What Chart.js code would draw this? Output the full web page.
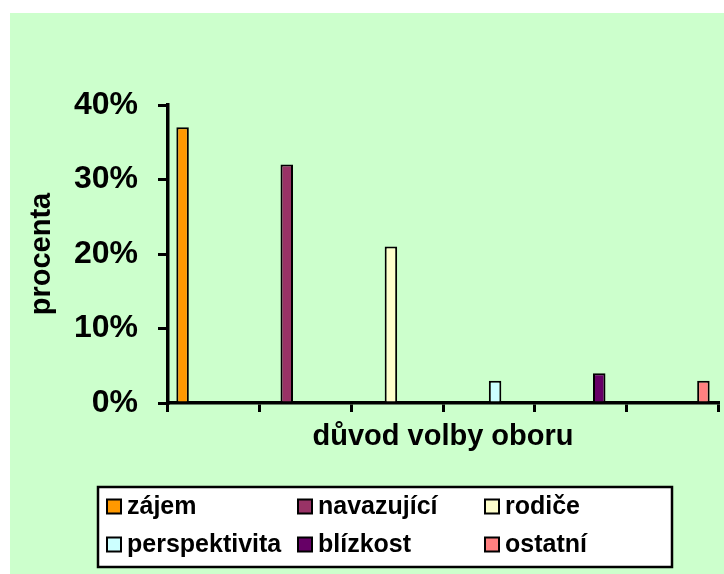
<!DOCTYPE html>
<html>
<head>
<meta charset="utf-8">
<script src="https://cdn.jsdelivr.net/npm/chart.js@4"></script>
<style>
  html, body { margin: 0; padding: 0; background: #ffffff; }
  #wrap { width: 724px; height: 574px; }
</style>
</head>
<body>
<div id="wrap"><canvas id="myChart" width="724" height="574"></canvas></div>
<script>
// categories on the x axis have no printed labels
const categories = ["", "", "", "", "", ""];
const seriesNames = ["zájem", "navazující", "rodiče", "perspektivita", "blízkost", "ostatní"];
const seriesValues = [37, 32, 21, 3, 4, 3];
const yTickValues = [0, 10, 20, 30, 40];

const colors = ["#ff9900", "#993366", "#ffffcc", "#ccffff", "#660066", "#ff8080"];
const fontFamily = "'Liberation Sans', Arial, sans-serif";

// each series only has a value in its own category
var datasets = seriesNames.map(function(name, i) {
	var data = categories.map(function(c, j) { return j === i ? seriesValues[i] : null; });
	return {
		label: name,
		data: data,
		backgroundColor: colors[i],
		borderColor: "#000000",
		borderWidth: 2,
		categoryPercentage: 0.818,
		barPercentage: 1.0
	};
});

const backgroundPlugin = {
	id: "bg",
	beforeDraw: function(chart) {
		var ctx = chart.ctx;
		ctx.save();
		ctx.fillStyle = "#ffffff";
		ctx.fillRect(0, 0, chart.width, chart.height);
		ctx.fillStyle = "#ccffcc";
		ctx.fillRect(10, 13, chart.width - 10, chart.height - 13);
		ctx.restore();
	}
};

const legendPlugin = {
	id: "boxLegend",
	afterDraw: function(chart) {
		var ctx = chart.ctx;
		var colX = [107, 298, 485];
		var rowY = [506, 544];
		ctx.save();
		ctx.fillStyle = "#ffffff";
		ctx.fillRect(98, 487, 574, 80);
		ctx.lineWidth = 2.5;
		ctx.strokeStyle = "#000000";
		ctx.strokeRect(98, 487, 574, 80);
		ctx.font = "bold 25px " + fontFamily;
		ctx.textBaseline = "middle";
		chart.data.datasets.forEach(function(ds, i) {
			var x = colX[i % 3];
			var y = rowY[Math.floor(i / 3)];
			ctx.fillStyle = ds.backgroundColor;
			ctx.fillRect(x, y - 6.5, 14, 14);
			ctx.lineWidth = 2;
			ctx.strokeRect(x, y - 6.5, 14, 14);
			ctx.fillStyle = "#000000";
			ctx.fillText(ds.label, x + 20, y + 1);
		});
		ctx.restore();
	}
};

var ctx = document.getElementById("myChart").getContext("2d");
var chart = new Chart(ctx, {
	type: "bar",
	data: {
		labels: categories,
		datasets: datasets
	},
	plugins: [backgroundPlugin, legendPlugin],
	options: {
		responsive: false,
		animation: false,
		layout: { padding: { top: 105, right: 6, bottom: 0, left: 0 } },
		plugins: {
			legend: { display: false },
			tooltip: { enabled: false }
		},
		scales: {
			x: {
				afterFit: function(scale) { scale.height = 171; },
				grid: {
					display: true,
					drawOnChartArea: false,
					drawTicks: true,
					tickLength: 9,
					color: "#000000",
					lineWidth: 3
				},
				border: { display: true, color: "#000000", width: 3.5 },
				ticks: { display: false },
				title: {
					display: true,
					text: "důvod volby oboru",
					color: "#000000",
					font: { family: fontFamily, size: 29, weight: "bold" },
					padding: { top: 0, bottom: 120 }
				}
			},
			y: {
				min: 0,
				max: 40,
				afterFit: function(scale) { scale.width = 168; },
				afterBuildTicks: function(scale) {
					scale.ticks = yTickValues.map(function(v) { return { value: v }; });
				},
				grid: {
					display: true,
					drawOnChartArea: false,
					drawTicks: true,
					tickLength: 10,
					color: "#000000",
					lineWidth: 3
				},
				border: { display: true, color: "#000000", width: 3.5 },
				ticks: {
					color: "#000000",
					padding: 20,
					font: { family: fontFamily, size: 32, weight: "bold" },
					callback: function(v) { return v + "%"; }
				},
				title: {
					display: true,
					text: "procenta",
					color: "#000000",
					font: { family: fontFamily, size: 29, weight: "bold" },
					padding: { top: 25, bottom: 0 }
				}
			}
		}
	}
});
</script>
</body>
</html>
